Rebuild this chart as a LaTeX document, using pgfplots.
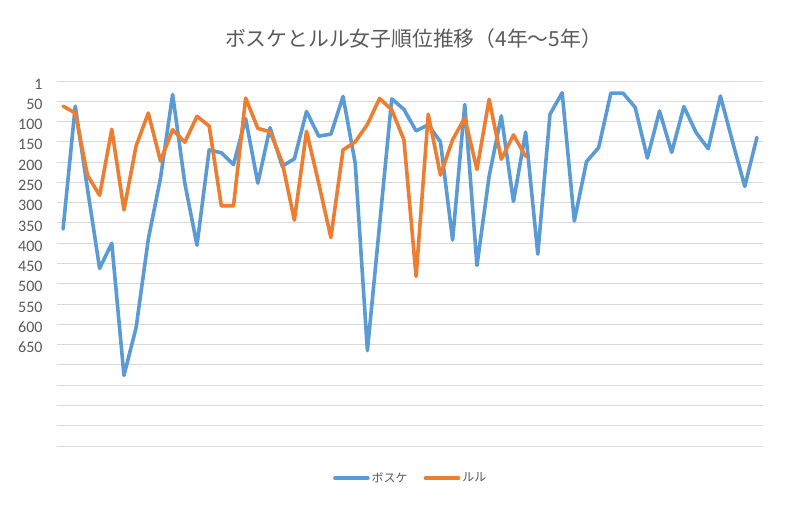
\documentclass[border=0pt]{standalone}
\usepackage{fontspec}
\setmainfont{Carlito}
\newfontfamily\jp{Noto Sans CJK JP}
\usepackage{pgfplots}
\pgfplotsset{compat=1.18}
\definecolor{cBlue}{HTML}{5B9BD5}
\definecolor{cOrange}{HTML}{ED7D31}
\definecolor{cGrid}{HTML}{D9D9D9}
\definecolor{cText}{HTML}{595959}

\begin{document}
\begin{tikzpicture}
\path[use as bounding box] (0,0) rectangle (792bp,511bp);
\begin{axis}[
  at={(57bp,65bp)}, anchor=south west,
  scale only axis, width=706bp, height=365bp,
  xmin=-0.5, xmax=57.5, xtick=\empty,
  y dir=reverse, ymin=0, ymax=900,
  ytick={0,50,...,900},
  yticklabels={1,50,100,150,200,250,300,350,400,450,500,550,600,650,,,,,},
  ymajorgrids, major grid style={cGrid, line width=1bp},
  axis line style={draw=none}, major tick length=0pt,
  tick label style={font=\fontsize{16bp}{18bp}\selectfont, text=cText},
  yticklabel style={xshift=-11bp, yshift=-3bp},
  title={\jp ボスケとルル女子順位推移（4年～5年）},
  title style={at={(axis description cs:0.505,1.099)}, anchor=center,
    font=\fontsize{20.8bp}{24bp}\selectfont, text=cText},
  legend style={at={(axis description cs:0.501,-0.088)}, anchor=center,
    draw=none, legend columns=2, text=cText,
    font=\jp\fontsize{12bp}{14bp}\selectfont,
    /tikz/every even column/.append style={column sep=14bp}},
  legend image code/.code={\draw[#1] (0bp,0bp) -- (33bp,0bp);},
  every axis plot/.append style={line width=3.6bp, line join=round, line cap=round},
]
% ボスケ
\addplot[cBlue] coordinates {
  (0,365) (1,62) (2,265) (3,462) (4,400) (5,726) (6,608) (7,390) (8,240) (9,33)
  (10,252) (11,405) (12,170) (13,177) (14,206) (15,93) (16,252) (17,115) (18,210) (19,192)
  (20,75) (21,136) (22,131) (23,38) (24,203) (25,665) (26,355) (27,44) (28,70) (29,123)
  (30,108) (31,150) (32,392) (33,58) (34,455) (35,235) (36,86) (37,297) (38,126) (39,427)
  (40,82) (41,29) (42,345) (43,199) (44,164) (45,30) (46,30) (47,65) (48,190) (49,74)
  (50,176) (51,63) (52,127) (53,167) (54,37) (55,150) (56,260) (57,139)
};
% ルル
\addplot[cOrange] coordinates {
  (0,62) (1,79) (2,232) (3,282) (4,119) (5,318) (6,160) (7,79) (8,197) (9,120)
  (10,151) (11,87) (12,111) (13,308) (14,308) (15,42) (16,117) (17,125) (18,200) (19,343)
  (20,124) (21,252) (22,386) (23,170) (24,150) (25,107) (26,43) (27,71) (28,145) (29,482)
  (30,82) (31,232) (32,145) (33,91) (34,218) (35,45) (36,193) (37,133) (38,186)
};
\legend{ボスケ,ルル}
\end{axis}
\end{tikzpicture}
\end{document}
